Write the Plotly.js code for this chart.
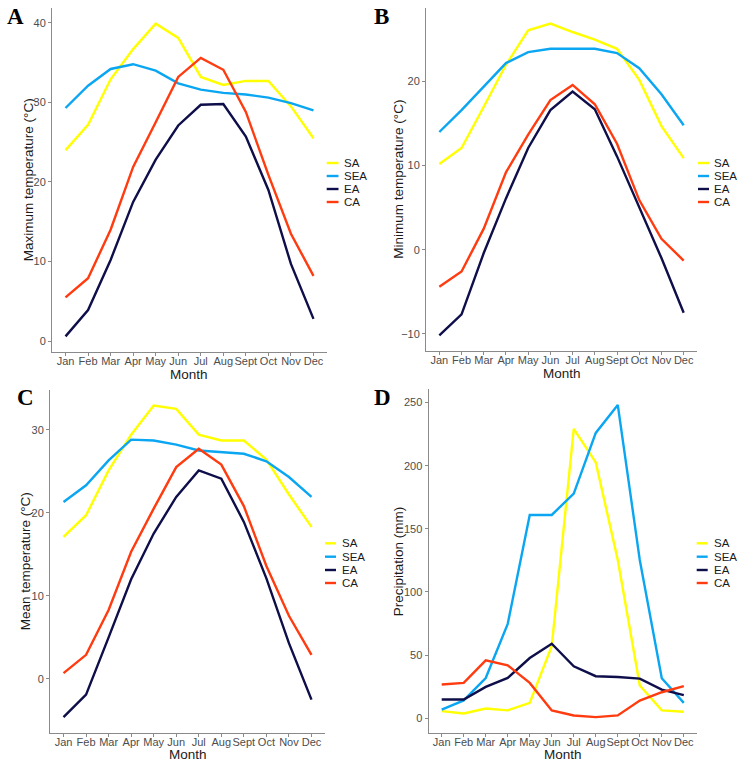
<!DOCTYPE html>
<html><head><meta charset="utf-8">
<script src="https://cdn.plot.ly/plotly-3.0.1.min.js"></script>
<style>html,body{margin:0;padding:0;background:#fff}</style>
</head><body><div id="chart" style="width:745px;height:766px"></div>
<script>
// ---- data ----
const months = ['Jan','Feb','Mar','Apr','May','Jun','Jul','Aug','Sept','Oct','Nov','Dec'];
const regions = ['SA','SEA','EA','CA'];

const maxSA  = [24.0, 27.2, 32.9, 36.7, 39.9, 38.1, 33.2, 32.2, 32.7, 32.7, 29.5, 25.5];
const maxSEA = [29.3, 32.1, 34.2, 34.8, 34.0, 32.4, 31.6, 31.2, 31.0, 30.6, 29.9, 29.0];
const maxEA  = [0.6, 3.9, 10.2, 17.5, 22.8, 27.1, 29.7, 29.8, 25.7, 19.0, 9.7, 2.8];
const maxCA  = [5.5, 7.9, 14.0, 21.9, 27.5, 33.2, 35.6, 34.1, 28.8, 20.9, 13.5, 8.2];

const minSA  = [10.2, 12.1, 17.0, 22.0, 26.1, 26.9, 25.9, 25.0, 23.9, 20.2, 14.7, 10.9];
const minSEA = [14.0, 16.6, 19.4, 22.2, 23.5, 23.9, 23.9, 23.9, 23.4, 21.6, 18.5, 14.8];
const minEA  = [-10.2, -7.7, -0.4, 6.1, 12.1, 16.6, 18.8, 16.7, 11.1, 5.1, -1.0, -7.5];
const minCA  = [-4.4, -2.6, 2.5, 9.2, 13.7, 17.8, 19.6, 17.3, 12.6, 5.9, 1.3, -1.3];

const meanSA  = [17.1, 19.7, 25.1, 29.4, 32.9, 32.5, 29.4, 28.7, 28.7, 26.4, 22.2, 18.3];
const meanSEA = [21.3, 23.3, 26.3, 28.8, 28.7, 28.2, 27.5, 27.3, 27.1, 26.2, 24.3, 21.9];
const meanEA  = [-4.6, -1.9, 5.0, 12.0, 17.5, 21.9, 25.1, 24.1, 18.9, 12.1, 4.3, -2.5];
const meanCA  = [0.7, 2.9, 8.3, 15.3, 20.5, 25.5, 27.7, 25.8, 20.8, 13.6, 7.6, 2.9];

const precSA  = [5.5, 3.7, 7.6, 6.1, 12.1, 57.0, 229.2, 202.6, 125.3, 25.8, 6.1, 5.0];
const precSEA = [6.8, 14.0, 31.8, 74.7, 161.0, 161.0, 177.9, 226.0, 248.2, 125.3, 31.6, 12.1];
const precEA  = [14.7, 14.7, 24.7, 31.8, 47.6, 58.9, 41.1, 33.2, 32.6, 31.3, 22.6, 18.2];
const precCA  = [26.6, 27.9, 45.8, 41.8, 27.9, 6.1, 2.1, 0.8, 2.1, 13.9, 20.5, 25.3];

const panelLetters = ['A','B','C','D'];
const yTitles = ['Maximum temperature (°C)','Minimum temperature (°C)','Mean temperature (°C)','Precipitation (mm)'];
const xTitle = 'Month';
const yDticks = [10, 10, 10, 50];

// ---- styles / layout ----
const colors = ['#FFFF00', '#0AA6F2', '#0E0E4A', '#FF3B0F'];
const W = 745, H = 766;
const FONT = 'Liberation Sans, Arial, sans-serif';
const panels = [
  {series:[maxSA,maxSEA,maxEA,maxCA],   dom:[52,327,8,352],        leg:{l1:326.7,l2:338.5,tx:341.5,ys:[163,176,189,202]}},
  {series:[minSA,minSEA,minEA,minCA],   dom:[426,697,8,351],       leg:{l1:698,l2:709,tx:711.5,ys:[163,176,189,202]}},
  {series:[meanSA,meanSEA,meanEA,meanCA],dom:[50,325,390,732.7],   leg:{l1:325,l2:336,tx:339.5,ys:[543.3,556.7,570,583]}},
  {series:[precSA,precSEA,precEA,precCA],dom:[428.5,697,389.3,732.7],leg:{l1:696.7,l2:707.7,tx:711.5,ys:[543.3,556.7,570,583]}}
];
const letterPos = [[15.8,17],[381.7,17],[25.3,397],[382,397]];
const yTitleX = [28.3, 398.3, 25, 398.3];

const px = v => v / W;
const py = v => 1 - v / H;

const traces = [];
const layout = {
  width: W, height: H,
  margin: {l:0, r:0, t:0, b:0},
  paper_bgcolor: '#fff', plot_bgcolor: '#fff',
  showlegend: false,
  font: {family: FONT, color: '#1a1a1a'},
  annotations: [], shapes: []
};

panels.forEach((p, i) => {
  const n = i === 0 ? '' : String(i + 1);
  const all = [].concat(...p.series);
  const mn = Math.min(...all), mx = Math.max(...all), pad = (mx - mn) * 0.05;
  p.series.forEach((ys, k) => {
    traces.push({
      type: 'scatter', mode: 'lines', name: regions[k],
      x: months, y: ys, xaxis: 'x' + n, yaxis: 'y' + n,
      line: {color: colors[k], width: 2.4},
      cliponaxis: false, hoverinfo: 'x+y+name'
    });
  });
  const [l, r, t, b] = p.dom;
  const axCommon = {
    showgrid: false, zeroline: false, showline: true, linecolor: '#8a8a8a', linewidth: 1,
    ticks: 'outside', ticklen: 3, tickwidth: 1, tickcolor: '#8a8a8a',
    tickfont: {family: FONT, size: 11, color: '#4d4d4d'}, fixedrange: true, tickangle: 0
  };
  layout['xaxis' + n] = Object.assign({}, axCommon, {
    domain: [px(l), px(r)], anchor: 'y' + n, type: 'category',
    categoryorder: 'array', categoryarray: months, range: [-0.6, 11.6],
    ticklabelstandoff: -4
  });
  layout['yaxis' + n] = Object.assign({}, axCommon, {
    domain: [py(b), py(t)], anchor: 'x' + n,
    range: [mn - pad, mx + pad], dtick: yDticks[i], tick0: 0
  });
  // axis titles
  layout.annotations.push({
    xref: 'paper', yref: 'paper', x: px(yTitleX[i]), y: py((t + b) / 2),
    text: yTitles[i], textangle: -90, showarrow: false, xanchor: 'center', yanchor: 'middle',
    font: {family: FONT, size: 13.5, color: '#1a1a1a'}
  });
  layout.annotations.push({
    xref: 'paper', yref: 'paper', x: px((l + r) / 2), y: py(b + 22),
    text: xTitle, showarrow: false, xanchor: 'center', yanchor: 'middle',
    font: {family: FONT, size: 13.5, color: '#1a1a1a'}
  });
  // panel letter
  layout.annotations.push({
    xref: 'paper', yref: 'paper', x: px(letterPos[i][0]), y: py(letterPos[i][1]),
    text: '<b>' + panelLetters[i] + '</b>', showarrow: false, xanchor: 'center', yanchor: 'middle',
    font: {family: 'Liberation Serif, Times New Roman, serif', size: 23, color: '#000'}
  });
  // legend
  regions.forEach((nm, k) => {
    const yy = p.leg.ys[k];
    layout.shapes.push({
      type: 'line', xref: 'paper', yref: 'paper',
      x0: px(p.leg.l1), x1: px(p.leg.l2), y0: py(yy), y1: py(yy),
      line: {color: colors[k], width: 2.4}
    });
    layout.annotations.push({
      xref: 'paper', yref: 'paper', x: px(p.leg.tx), y: py(yy),
      text: nm, showarrow: false, xanchor: 'left', yanchor: 'middle',
      font: {family: FONT, size: 11.5, color: '#1a1a1a'}
    });
  });
});

Plotly.newPlot('chart', traces, layout, {staticPlot: true, displayModeBar: false});
</script></body></html>
